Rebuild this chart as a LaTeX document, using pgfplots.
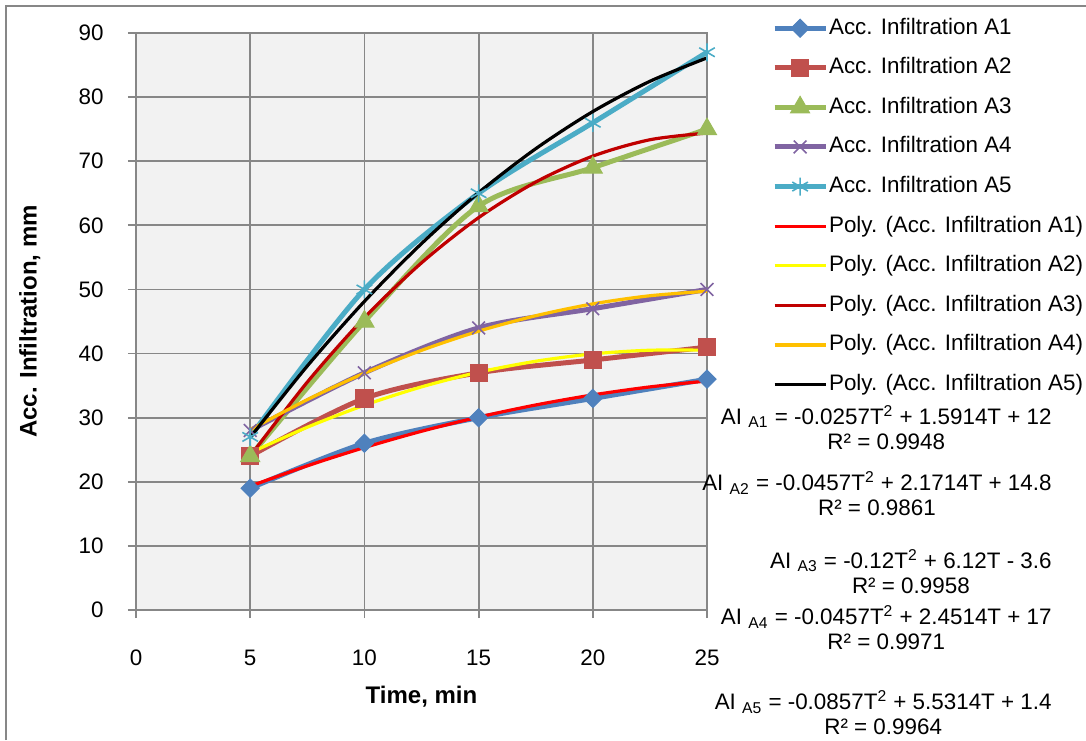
\documentclass[border=0pt]{standalone}
\usepackage{fontspec}
\setmainfont{Liberation Sans}
\usepackage{pgfplots}
\pgfplotsset{compat=1.18}
\definecolor{cA1}{HTML}{4F81BD}
\definecolor{cA2}{HTML}{C0504D}
\definecolor{cA3}{HTML}{9BBB59}
\definecolor{cA4}{HTML}{8064A2}
\definecolor{cA5}{HTML}{4BACC6}
\definecolor{pA1}{HTML}{FF0000}
\definecolor{pA2}{HTML}{FFFF00}
\definecolor{pA3}{HTML}{C00000}
\definecolor{pA4}{HTML}{FFC000}
\definecolor{pA5}{HTML}{000000}
\definecolor{gridgray}{HTML}{878787}
\definecolor{bgF2}{HTML}{F2F2F2}
\begin{document}
\begin{tikzpicture}
\useasboundingbox (0,0) rectangle (543pt,370pt);
\draw[color=gridgray, line width=1pt] (3pt,0) -- (3pt,367pt) -- (543pt,367pt);
\begin{axis}[
  at={(68pt,65pt)}, anchor=south west,
  scale only axis, width=285.5pt, height=288.5pt,
  xmin=0, xmax=25, ymin=0, ymax=90,
  xtick={0,5,...,25}, ytick={0,10,...,90},
  grid=major, grid style={gridgray, line width=0.9pt},
  axis line style={gridgray, line width=0.9pt},
  axis background/.style={fill=bgF2},
  tick align=outside, tick pos=left, major tick length=4pt,
  tick style={gridgray, line width=0.9pt},
  /pgf/number format/assume math mode=true,
  ticklabel style={font=\fontsize{11.2}{13}\selectfont},
  xticklabel style={anchor=center, yshift=-20pt},
  yticklabel style={anchor=east, inner sep=0pt, xshift=-12pt},
  xlabel={Time, min}, ylabel={Acc. Infiltration, mm},
  every axis x label/.style={at={(axis description cs:0.5,-0.151)}, anchor=center, font=\bfseries\fontsize{12}{14}\selectfont},
  every axis y label/.style={at={(axis description cs:-0.186,0.5)}, anchor=center, rotate=90, font=\bfseries\fontsize{12}{14}\selectfont},
  legend style={draw=none, fill=none, inner sep=0pt, outer sep=0pt,
    at={(axis description cs:1.114,1.0275)}, anchor=north west,
    row sep=8.8pt, column sep=0.5pt, font=\fontsize{11.2}{13}\selectfont,
    nodes={inner sep=0pt, text height=8.5pt, text depth=2.5pt}},
  legend cell align=left,
  legend image code/.code={\draw[mark repeat=2, mark phase=2, #1] plot coordinates {(0pt,0pt) (12.75pt,0pt) (25.5pt,0pt)};},
]
\addplot[color=cA1, line width=2.5pt, smooth, mark=square*, mark size=3.2pt, mark options={solid, line width=0.5pt, rotate=45}]
  coordinates {(5,19)(10,26)(15,30)(20,33)(25,36)};
\addlegendentry{Acc. Infiltration A1}
\addplot[color=cA2, line width=2.5pt, smooth, mark=square*, mark size=4.3pt, mark options={solid, line width=0.5pt}]
  coordinates {(5,24)(10,33)(15,37)(20,39)(25,41)};
\addlegendentry{Acc. Infiltration A2}
\addplot[color=cA3, line width=2.5pt, smooth, mark=triangle*, mark size=5.5pt, mark options={solid, line width=0.5pt}]
  coordinates {(5,24)(10,45)(15,63)(20,69)(25,75)};
\addlegendentry{Acc. Infiltration A3}
\addplot[color=cA4, line width=2.5pt, smooth, mark=x, mark size=4.5pt, mark options={solid, line width=0.8pt}]
  coordinates {(5,28)(10,37)(15,44)(20,47)(25,50)};
\addlegendentry{Acc. Infiltration A4}
\addplot[color=cA5, line width=2.5pt, smooth, mark=asterisk, mark size=4.5pt, mark options={solid, line width=0.8pt}]
  coordinates {(5,27)(10,50)(15,65)(20,76)(25,87)};
\addlegendentry{Acc. Infiltration A5}
\addplot[color=pA1, line width=1.6pt, smooth, no marks]
  coordinates {(5,19.31)(7.5,22.49)(10,25.34)(12.5,27.88)(15,30.09)(17.5,31.98)(20,33.55)(22.5,34.80)(25,35.72)};
\addlegendentry{Poly. (Acc. Infiltration A1)}
\addplot[color=pA2, line width=1.6pt, smooth, no marks]
  coordinates {(5,24.51)(7.5,28.51)(10,31.94)(12.5,34.80)(15,37.09)(17.5,38.80)(20,39.95)(22.5,40.52)(25,40.52)};
\addlegendentry{Poly. (Acc. Infiltration A2)}
\addplot[color=pA3, line width=1.6pt, smooth, no marks]
  coordinates {(5,24.00)(7.5,35.55)(10,45.60)(12.5,54.15)(15,61.20)(17.5,66.75)(20,70.80)(22.5,73.35)(25,74.40)};
\addlegendentry{Poly. (Acc. Infiltration A3)}
\addplot[color=pA4, line width=1.6pt, smooth, no marks]
  coordinates {(5,28.11)(7.5,32.81)(10,36.94)(12.5,40.50)(15,43.49)(17.5,45.90)(20,47.75)(22.5,49.02)(25,49.72)};
\addlegendentry{Poly. (Acc. Infiltration A4)}
\addplot[color=pA5, line width=1.6pt, smooth, no marks]
  coordinates {(5,26.91)(7.5,38.06)(10,48.14)(12.5,57.15)(15,65.09)(17.5,71.95)(20,77.75)(22.5,82.47)(25,86.12)};
\addlegendentry{Poly. (Acc. Infiltration A5)}
\end{axis}
\begin{scope}[every node/.style={anchor=east, align=center, inner sep=0pt, font=\fontsize{11.2}{12.5}\selectfont}]
\node at (526pt,156.25pt) {AI \textsubscript{A1} = -0.0257T\textsuperscript{2} + 1.5914T + 12\\R² = 0.9948};
\node at (526pt,123pt) {AI \textsubscript{A2} = -0.0457T\textsuperscript{2} + 2.1714T + 14.8\\R² = 0.9861};
\node at (526pt,84.25pt) {AI \textsubscript{A3} = -0.12T\textsuperscript{2} + 6.12T - 3.6\\R² = 0.9958};
\node at (526pt,56pt) {AI \textsubscript{A4} = -0.0457T\textsuperscript{2} + 2.4514T + 17\\R² = 0.9971};
\node at (526pt,13.5pt) {AI \textsubscript{A5} = -0.0857T\textsuperscript{2} + 5.5314T + 1.4\\R² = 0.9964};
\end{scope}
\end{tikzpicture}
\end{document}
